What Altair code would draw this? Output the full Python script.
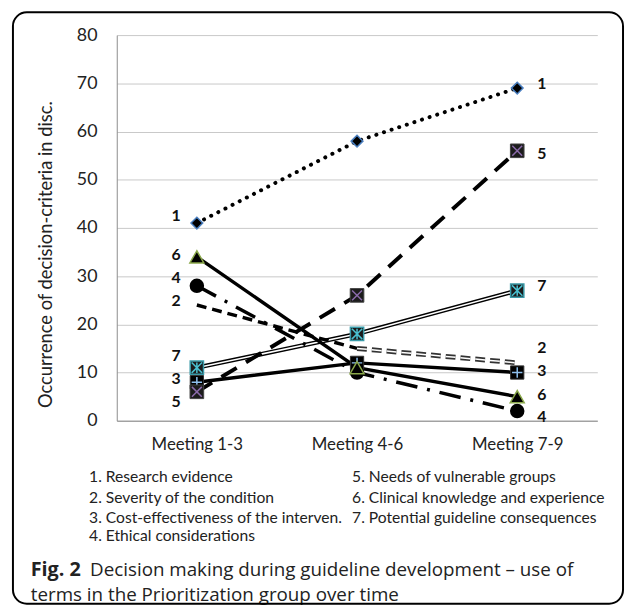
import altair as alt
import pandas as pd

meetings = ["Meeting 1-3", "Meeting 4-6", "Meeting 7-9"]
series_ids = ["1", "2", "3", "4", "5", "6", "7"]
series_names = [
    "1. Research evidence",
    "2. Severity of the condition",
    "3. Cost-effectiveness of the interven.",
    "4. Ethical considerations",
    "5. Needs of vulnerable groups",
    "6. Clinical knowledge and experience",
    "7. Potential guideline consequences",
]
research_evidence = [41, 58, 69]
severity = [24, 15, 12]
cost_effectiveness = [8, 12, 10]
ethical = [28, 10, 2]
vulnerable = [6, 26, 56]
clinical = [34, 11, 5]
consequences = [11, 18, 27]
y_ticks = [0, 10, 20, 30, 40, 50, 60, 70, 80]
y_title = "Occurrence of decision-criteria in disc."
caption_bold = "Fig. 2"
caption_line1 = "Decision making during guideline development \u2013 use of"
caption_line2 = "terms in the Prioritization group over time"

all_values = [research_evidence, severity, cost_effectiveness, ethical,
              vulnerable, clinical, consequences]
rows = []
for sid, vals in zip(series_ids, all_values):
    for m, v in zip(meetings, vals):
        rows.append({"meeting": m, "sid": sid, "value": v})
df = pd.DataFrame(rows)

W, H = 486, 390
FONT = "Lato"

xenc = alt.X("meeting:N", sort=meetings,
             scale=alt.Scale(type="point", domain=meetings, padding=0.5),
             axis=alt.Axis(title=None, labelAngle=0, labelFontSize=17, labelFont=FONT,
                           labelColor="#222", labelPadding=16, ticks=False,
                           domainColor="#8c8c8c", grid=False))
yenc = alt.Y("value:Q", scale=alt.Scale(domain=[0, 80], nice=False),
             axis=alt.Axis(title=None, values=y_ticks, labelFontSize=18, labelFont=FONT,
                           labelColor="#222", labelPadding=20, ticks=False,
                           domainColor="#8c8c8c", gridColor="#c8c8c8"))

base = alt.Chart(df).encode(x=xenc, y=yenc)


def sel(sid, meets=None):
    c = base.transform_filter(alt.datum.sid == sid)
    if meets is not None:
        c = c.transform_filter(alt.FieldOneOfPredicate(field="meeting", oneOf=meets))
    return c


layers = []
# lines
layers.append(sel("7").mark_line(color="black", strokeWidth=4.5))
layers.append(sel("7").mark_line(color="white", strokeWidth=1.6))
layers.append(sel("2", meetings[:2]).mark_line(color="black", strokeWidth=3.5, strokeDash=[10, 6]))
layers.append(sel("2", meetings[1:]).mark_line(color="#333", strokeWidth=5, strokeDash=[10, 5]))
layers.append(sel("2", meetings[1:]).mark_line(color="white", strokeWidth=1.5, strokeDash=[10, 5]))
layers.append(sel("5").mark_line(color="black", strokeWidth=4, strokeDash=[18, 11]))
layers.append(sel("4").mark_line(color="black", strokeWidth=3.5, strokeDash=[22, 10, 3, 10]))
layers.append(sel("3").mark_line(color="black", strokeWidth=3.5))
layers.append(sel("6").mark_line(color="black", strokeWidth=3.5))
layers.append(sel("1").mark_line(color="black", strokeWidth=4, strokeDash=[0.1, 8], strokeCap="round"))

# markers
layers.append(sel("1").mark_point(shape="diamond", size=140, filled=True, fill="black",
                                  stroke="#4a7fc0", strokeWidth=1.5, opacity=1))
layers.append(sel("3").mark_point(shape="square", size=180, filled=True, fill="black",
                                  stroke="#333", strokeWidth=1, opacity=1))
layers.append(sel("3").mark_point(shape="M-1,0L1,0M0,-1L0,1", size=110, filled=False,
                                  stroke="#8fc0ee", strokeWidth=1.5, opacity=1))
layers.append(sel("4").mark_point(shape="circle", size=160, filled=True, fill="black",
                                  stroke="black", opacity=1))
layers.append(sel("5").mark_point(shape="square", size=190, filled=True, fill="#1c1c1c",
                                  stroke="#444", strokeWidth=1, opacity=1))
layers.append(sel("5").mark_point(shape="M-1,-1L1,1M-1,1L1,-1", size=100, filled=False,
                                  stroke="#8a6aaa", strokeWidth=1.5, opacity=1))
layers.append(sel("6").mark_point(shape="triangle-up", size=200, filled=True, fill="black",
                                  stroke="#8aa84a", strokeWidth=1.5, opacity=1))
layers.append(sel("7").mark_point(shape="square", size=180, filled=True, fill="#1c1c1c",
                                  stroke="#3a9aa8", strokeWidth=1.5, opacity=1))
layers.append(sel("7").mark_point(shape="M-1,-1L1,1M-1,1L1,-1M0,-1L0,1", size=110, filled=False,
                                  stroke="#4ac0d0", strokeWidth=1.5, opacity=1))

# end labels
left_dy = {"1": -7, "6": -2, "4": -8, "2": -4, "7": -12, "3": -3, "5": 10}
right_dy = {"1": -4, "5": 3, "7": -5, "2": -15, "3": -1, "6": -2, "4": 6}
for sid in series_ids:
    layers.append(sel(sid, [meetings[0]]).mark_text(
        dx=-21, dy=left_dy[sid], fontWeight="bold", fontSize=16, font=FONT, color="#111"
    ).encode(text="sid:N"))
    layers.append(sel(sid, [meetings[2]]).mark_text(
        dx=25, dy=right_dy[sid], fontWeight="bold", fontSize=16, font=FONT, color="#111"
    ).encode(text="sid:N"))


def static(txt, x, y, **kw):
    return alt.Chart(pd.DataFrame({"t": [txt]})).mark_text(**kw).encode(
        x=alt.value(x), y=alt.value(y), text=alt.Text("t:N"))


# y title
layers.append(static(y_title, -71, 222, angle=270, fontSize=18.5, font=FONT, color="#222",
                     align="center", baseline="middle"))

# legend text
col_x = [-28, 238]
row_y = [447, 468, 488, 507]
for i, name in enumerate(series_names):
    col = 0 if i < 4 else 1
    row = i if i < 4 else i - 4
    layers.append(static(name, col_x[col], row_y[row], fontSize=15.8, font=FONT, color="#222",
                         align="left", baseline="middle"))

# caption
layers.append(static(caption_bold, -87, 541, fontSize=20, font="Open Sans", fontWeight="bold",
                     color="#222", align="left", baseline="middle"))
layers.append(static(caption_line1, -27, 541, fontSize=19, font="Open Sans", color="#222",
                     align="left", baseline="middle"))
layers.append(static(caption_line2, -87, 566, fontSize=19, font="Open Sans", color="#222",
                     align="left", baseline="middle"))

# border frame
frame = alt.Chart(pd.DataFrame({"t": [0]})).mark_rect(
    fillOpacity=0, stroke="black", strokeWidth=2, cornerRadius=14
).encode(x=alt.value(-105), x2=alt.value(512), y=alt.value(-23), y2=alt.value(575))
layers.append(frame)

chart = alt.layer(*layers).properties(
    width=W, height=H,
    autosize=alt.AutoSizeParams(type="none"),
    padding={"left": 110, "top": 24, "right": 28, "bottom": 186},
    background="white",
).configure_view(stroke=None)

chart.save("out.html", embed_options={"renderer": "svg", "actions": False})
